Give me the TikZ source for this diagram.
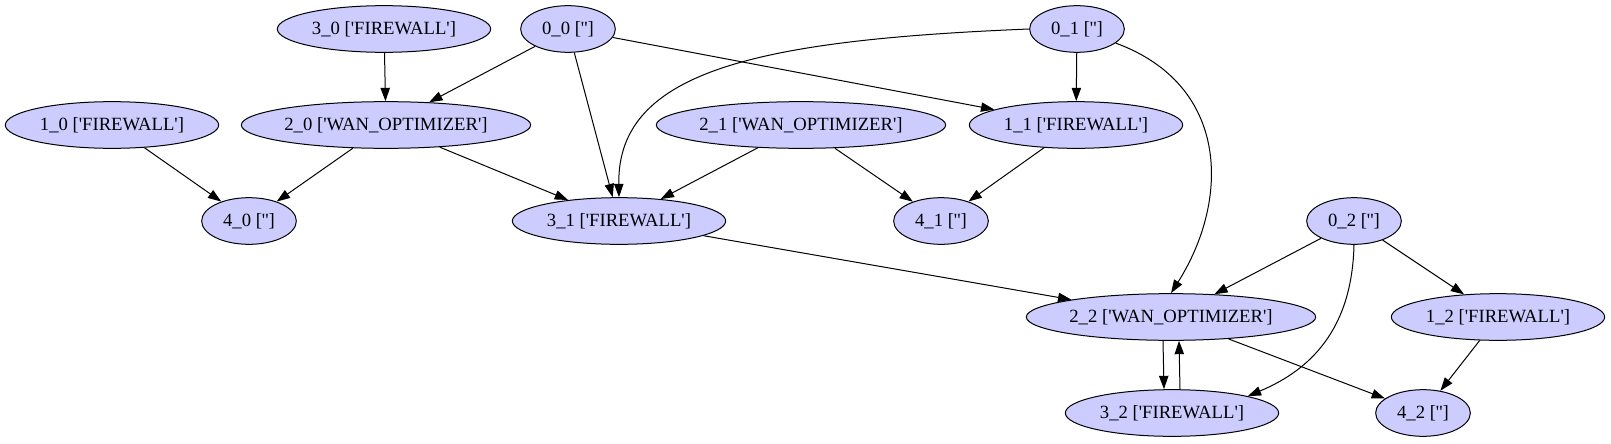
\documentclass[tikz,border=0pt]{standalone}
\usepackage{fontspec}
\setmainfont{Liberation Serif}
\usetikzlibrary{shapes.geometric,arrows.meta}
\definecolor{gfill}{RGB}{204,204,255}
\newcommand\sq{\textquotesingle}
\tikzset{
  gnode/.style={ellipse, draw=black, fill=gfill, line width=0.75pt, inner sep=0pt,
    minimum height=35pt, font=\fontsize{14}{16}\selectfont},
  fw/.style={gnode, minimum width=160pt},
  wan/.style={gnode, minimum width=217pt},
  em/.style={gnode, minimum width=71pt},
  edge/.style={line width=0.75pt, -{Triangle[length=10pt,width=7pt]}}
}
\begin{document}
\begin{tikzpicture}[x=0.75pt,y=-0.75pt]
\useasboundingbox (0,0) rectangle (1611,443);
% rank 0
\node[fw] (n30) at (384,29) {3\_0 [\sq FIREWALL\sq]};
\node[em] (n00) at (568,29) {0\_0 [\sq\sq]};
\node[em] (n01) at (1077,29) {0\_1 [\sq\sq]};
% rank 1
\node[fw] (n10) at (112,125) {1\_0 [\sq FIREWALL\sq]};
\node[wan] (n20) at (386,125) {2\_0 [\sq WAN\_OPTIMIZER\sq]};
\node[wan] (n21) at (801,125) {2\_1 [\sq WAN\_OPTIMIZER\sq]};
\node[fw] (n11) at (1076,125) {1\_1 [\sq FIREWALL\sq]};
% rank 2
\node[em] (n40) at (249,221) {4\_0 [\sq\sq]};
\node[fw] (n31) at (619,221) {3\_1 [\sq FIREWALL\sq]};
\node[em] (n41) at (941,221) {4\_1 [\sq\sq]};
\node[em] (n02) at (1354,221) {0\_2 [\sq\sq]};
% rank 3
\node[wan] (n22) at (1171,317) {2\_2 [\sq WAN\_OPTIMIZER\sq]};
\node[fw] (n12) at (1498,317) {1\_2 [\sq FIREWALL\sq]};
% rank 4
\node[fw] (n32) at (1172,413) {3\_2 [\sq FIREWALL\sq]};
\node[em] (n42) at (1423,413) {4\_2 [\sq\sq]};

\draw[edge] (n30) -- (n20);
\draw[edge] (n00) -- (n20);
\draw[edge] (n00) -- (n31);
\draw[edge] (n00) -- (n11);
\draw[edge] (n01) -- (n11);
\draw[edge] (n01.west) .. controls (760,40) and (617,70) .. (n31.north);
\draw[edge] (n01.-20) .. controls (1230,85) and (1230,200) .. (n22.north);
\draw[edge] (n10) -- (n40);
\draw[edge] (n20) -- (n40);
\draw[edge] (n20) -- (n31);
\draw[edge] (n21) -- (n31);
\draw[edge] (n21) -- (n41);
\draw[edge] (n11) -- (n41);
\draw[edge] (n31) -- (n22);
\draw[edge] (n02) -- (n22);
\draw[edge] (n02) -- (n12);
\draw[edge] (n02.south) .. controls (1352,330) and (1310,370) .. (n32.north east);
\draw[edge] ([xshift=-6pt]n22.south) -- ([xshift=-6pt]n32.north);
\draw[edge] ([xshift=6pt]n32.north) -- ([xshift=6pt]n22.south);
\draw[edge] (n22) -- (n42);
\draw[edge] (n12) -- (n42);
\end{tikzpicture}
\end{document}
